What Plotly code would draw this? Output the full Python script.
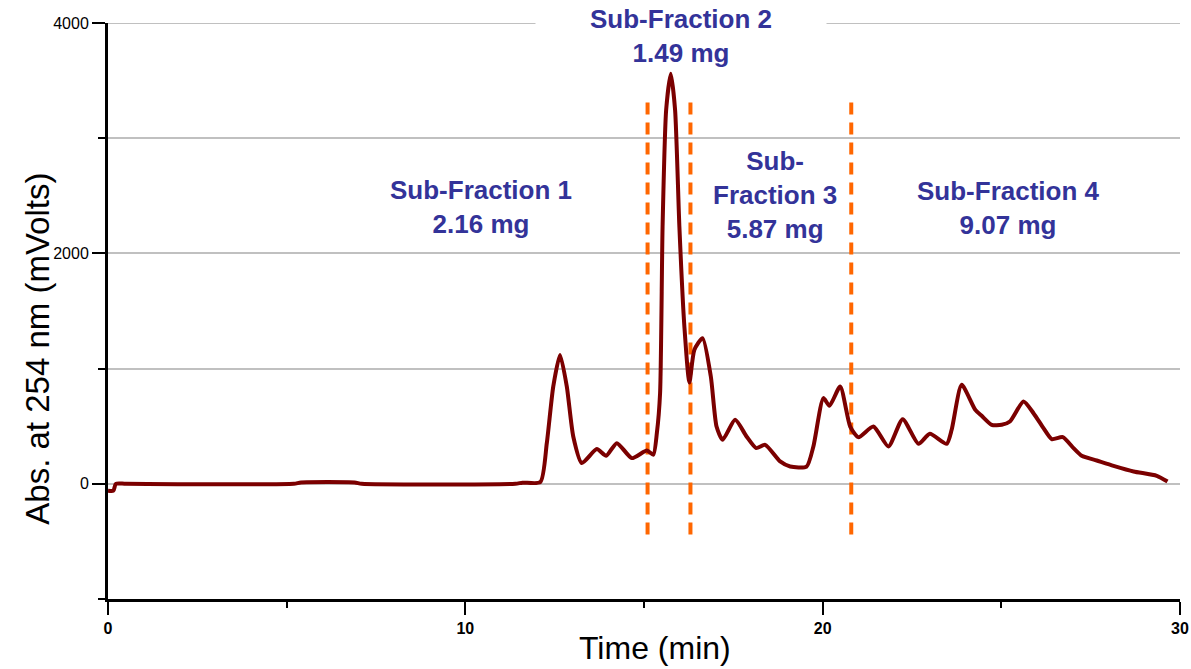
import plotly.graph_objects as go

# ---- data ----
time_min = [0, 0.15, 0.22, 0.5, 5.2, 5.4, 6.9, 7.1, 11.4, 11.6, 12.1, 12.28, 12.46, 12.65, 12.84, 13.02,
            13.26, 13.68, 13.94, 14.24, 14.66, 15.08, 15.26, 15.36, 15.45, 15.52, 15.62, 15.75,
            15.87, 15.99, 16.13, 16.27, 16.41, 16.64, 16.87, 17.03, 17.2, 17.55, 17.87, 18.14,
            18.39, 18.81, 19.09, 19.55, 19.74, 20.02, 20.19, 20.49, 20.77, 21.0, 21.42, 21.84,
            22.24, 22.68, 23.0, 23.47, 23.61, 23.89, 24.27, 24.45, 24.73, 25.01, 25.24, 25.62,
            25.9, 26.18, 26.41, 26.72, 27.02, 27.25, 27.67, 28.14, 28.7, 29.35, 29.65]
abs_mv = [-60, -60, 0, 0, 0, 12, 12, 0, 0, 10, 15, 353, 844, 1119, 844, 411,
          180, 301, 243, 353, 223, 289, 252, 440, 787, 2233, 3245, 3560,
          3245, 2233, 1365, 879, 1163, 1264, 931, 497, 382, 555, 411, 310,
          338, 194, 150, 150, 324, 744, 677, 844, 497, 405, 497, 324,
          561, 347, 434, 347, 469, 859, 642, 590, 512, 512, 541, 714,
          613, 483, 388, 405, 310, 243, 202, 156, 107, 69, 20]

cut_times = [15.1, 16.3, 20.8]
cut_range = [-440, 3350]

frac_labels = ["Sub-Fraction 1<br>2.16 mg", "Sub-Fraction 2<br>1.49 mg",
               "Sub-<br>Fraction 3<br>5.87 mg", "Sub-Fraction 4<br>9.07 mg"]
frac_x = [10.44, 16.04, 18.67, 25.19]
frac_y = [2400, 3890, 2510, 2390]

x_tickvals = [0, 10, 20, 30]
y_tickvals = [0, 2000, 4000]
y_ticktext = ["0", "2000", "4000"]
y_top = 4000

FONT = "Arial, Liberation Sans, sans-serif"

fig = go.Figure()

# top gridline (plotly skips the gridline at the range edge)
fig.add_shape(type="line", xref="x", yref="y", x0=0, x1=30, y0=y_top, y1=y_top,
              line=dict(color="#C0C0C0", width=2), layer="below")

for ct in cut_times:
    fig.add_trace(go.Scatter(x=[ct, ct], y=cut_range, mode="lines",
                             line=dict(color="#FF6600", width=4, dash="12px,8px"),
                             showlegend=False, hoverinfo="skip"))

fig.add_trace(go.Scatter(x=time_min, y=abs_mv, mode="lines",
                         line=dict(color="#7B0000", width=4, shape="spline", smoothing=0.6),
                         showlegend=False))

for txt, fx, fy in zip(frac_labels, frac_x, frac_y):
    is2 = txt.startswith("Sub-Fraction 2")
    fig.add_annotation(x=fx, y=fy, xref="x", yref="y", text=txt, showarrow=False,
                       font=dict(family=FONT, size=26, color="#333399", weight="bold"),
                       align="center",
                       bgcolor="white" if is2 else None,
                       width=288 if is2 else None)

fig.update_layout(
    width=1191, height=669,
    margin=dict(l=108, r=11, t=23, b=70, autoexpand=False),
    paper_bgcolor="white", plot_bgcolor="white",
    showlegend=False,
    xaxis=dict(range=[0, 30], tickvals=x_tickvals, ticks="outside", ticklen=13, tickwidth=2,
               tickcolor="black", showline=True, linecolor="black", linewidth=3,
               showgrid=False, zeroline=False, ticklabelstandoff=0, automargin=False,
               minor=dict(dtick=5, tick0=0, ticks="outside", ticklen=6, tickwidth=2, tickcolor="black"),
               tickfont=dict(family=FONT, size=16, color="black", weight="bold")),
    yaxis=dict(range=[-1000, 4000], tickvals=y_tickvals, ticktext=y_ticktext,
               ticks="outside", ticklen=13, tickwidth=2, tickcolor="black",
               showline=True, linecolor="black", linewidth=3, automargin=False,
               showgrid=True, gridcolor="#C0C0C0", gridwidth=2, zeroline=False,
               minor=dict(dtick=1000, tick0=0, ticks="outside", ticklen=7, tickwidth=2,
                          tickcolor="black", showgrid=True, gridcolor="#C0C0C0", gridwidth=2),
               tickfont=dict(family=FONT, size=16, color="black")),
)

fig.add_annotation(text="Time (min)", xref="paper", yref="paper", x=0.51, y=-0.085,
                   xanchor="center", yanchor="middle", showarrow=False,
                   font=dict(family=FONT, size=32, color="black"))
fig.add_annotation(text="Abs. at 254 nm (mVolts)", xref="paper", yref="paper", x=-0.066, y=0.435,
                   xanchor="center", yanchor="middle", showarrow=False, textangle=-90,
                   font=dict(family=FONT, size=33, color="black"))

fig.write_html("out.html")
